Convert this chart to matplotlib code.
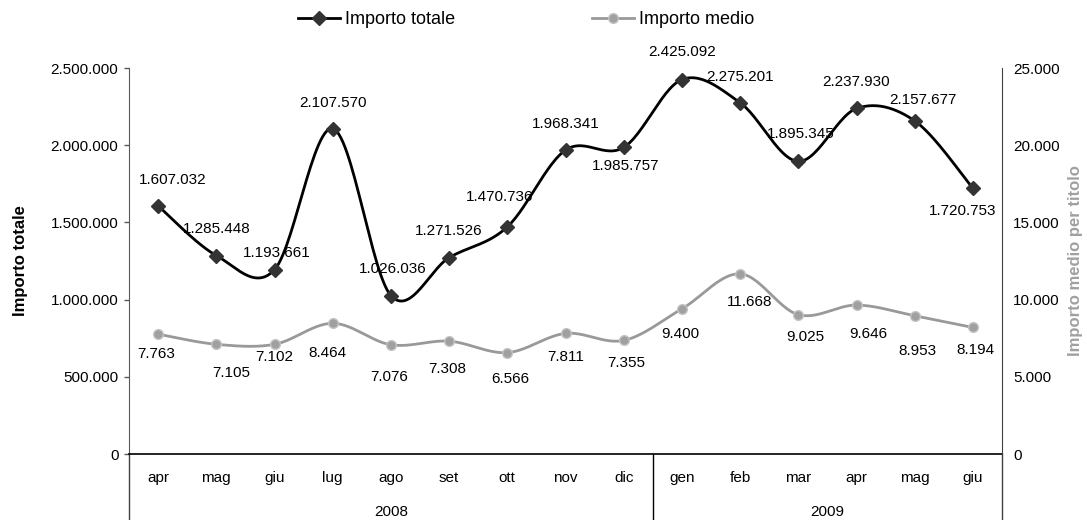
import numpy as np
import matplotlib
matplotlib.use("Agg")
from matplotlib import pyplot as plt
from matplotlib import transforms
from matplotlib.lines import Line2D
from matplotlib.ticker import FuncFormatter

plt.rcParams['font.family'] = ['Liberation Sans', 'DejaVu Sans']

# monthly data, apr 2008 - giu 2009
mesi   = ['apr', 'mag', 'giu', 'lug', 'ago', 'set', 'ott', 'nov', 'dic',
          'gen', 'feb', 'mar', 'apr', 'mag', 'giu']
anni   = ['2008', '2009']
n_anno = [9, 6]   # months per year group

importo_totale = [1607032, 1285448, 1193661, 2107570, 1026036, 1271526, 1470736,
                  1968341, 1985757, 2425092, 2275201, 1895345, 2237930, 2157677,
                  1720753]
importo_medio  = [7763, 7105, 7102, 8464, 7076, 7308, 6566, 7811, 7355,
                  9400, 11668, 9025, 9646, 8953, 8194]

# label offsets in pixels (dx, dy)
off_tot = [(15, 26), (0, 27), (2, 17), (0, 26), (2, 27), (0, 27), (-8, 30), (0, 26),
           (2, -19), (0, 28), (0, 26), (2, 27), (0, 26), (8, 21), (-10, -23)]
off_med = [(-2, -20), (15, -29), (0, -13), (-5, -30), (-2, -32), (-2, -28), (3, -26),
           (0, -24), (3, -23), (-2, -25), (10, -28), (7, -22), (12, -29), (3, -35),
           (3, -23)]


def smooth(x, y, n=30):
  """
  Smoothed line through the points (cubic bezier, catmull-rom tangents)
  """
  x = np.asarray(x, float)
  y = np.asarray(y, float)
  px = np.concatenate([[x[0]], x, [x[-1]]])
  py = np.concatenate([[y[0]], y, [y[-1]]])
  t = np.linspace(0, 1, n)[:, None]
  xs, ys = [], []
  for i in range(1, len(x)):
    p0 = np.array([px[i], py[i]])
    p3 = np.array([px[i + 1], py[i + 1]])
    c1 = p0 + (p3 - np.array([px[i - 1], py[i - 1]])) / 6.
    c2 = p3 - (np.array([px[i + 2], py[i + 2]]) - p0) / 6.
    b = (1 - t)**3 * p0 + 3 * (1 - t)**2 * t * c1 + 3 * (1 - t) * t**2 * c2 + t**3 * p3
    xs.append(b[:, 0])
    ys.append(b[:, 1])
  return np.concatenate(xs), np.concatenate(ys)


def fmt(v, pos=None):
  return '{:,}'.format(int(round(v))).replace(',', '.')


x = np.arange(len(mesi))

fig = plt.figure(figsize=(10.87, 5.20), dpi=100)
ax = fig.add_axes([129 / 1087, 1 - 454 / 520, (1002 - 129) / 1087, 386 / 520])
ax2 = ax.twinx()

# totale
sx, sy = smooth(x, importo_totale)
ax.plot(sx, sy, color='black', lw=2.0, zorder=3)
ax.plot(x, importo_totale, linestyle='none', marker='D', ms=7.5, mfc='#333333',
        mec='#333333', zorder=4)
for xi, v, (dx, dy) in zip(x, importo_totale, off_tot):
  ax.annotate(fmt(v), (xi, v), xytext=(dx, dy), textcoords='offset pixels',
              ha='center', va='center', fontsize=11, zorder=5)

# medio
sx, sy = smooth(x, importo_medio)
ax2.plot(sx, sy, color='#999999', lw=2.0, zorder=3)
ax2.plot(x, importo_medio, linestyle='none', marker='o', ms=7, mfc='#a0a0a0',
         mec='#c4c4c4', mew=1.0, zorder=4)
for xi, v, (dx, dy) in zip(x, importo_medio, off_med):
  ax2.annotate(fmt(v), (xi, v), xytext=(dx, dy), textcoords='offset pixels',
               ha='center', va='center', fontsize=11, zorder=5)

# axes
ax.set_xlim(-0.5, len(mesi) - 0.5)
ax.set_ylim(0, 2500000)
ax.set_yticks(np.arange(0, 2500001, 500000))
ax.yaxis.set_major_formatter(FuncFormatter(fmt))
ax2.set_ylim(0, 25000)
ax2.set_yticks(np.arange(0, 25001, 5000))
ax2.yaxis.set_major_formatter(FuncFormatter(fmt))

ax.set_xticks(x)
ax.set_xticklabels(mesi)
ax.tick_params(axis='x', length=0, pad=12, labelsize=11)
ax.tick_params(axis='y', length=3.6, width=1, color='#595959', pad=4, labelsize=11)
ax2.tick_params(axis='y', length=0, pad=8, labelsize=11)

for a in (ax, ax2):
  a.spines['top'].set_visible(False)
ax.spines['right'].set_visible(False)
ax2.spines['left'].set_visible(False)
ax2.spines['bottom'].set_visible(False)
ax.spines['left'].set_color('#595959')
ax2.spines['right'].set_color('#404040')
ax.spines['bottom'].set_color('black')
ax.spines['bottom'].set_linewidth(1.2)

ax.set_ylabel('Importo totale', fontsize=12, fontweight='bold', labelpad=16)
ax2.set_ylabel('Importo medio per titolo', fontsize=12, fontweight='bold',
               color='#a0a0a0', labelpad=6)

# year groups under the month labels
tr = transforms.blended_transform_factory(ax.transData, ax.transAxes)
bottom = -(520 - 454) / 386
edges = np.concatenate([[0], np.cumsum(n_anno)]) - 0.5
for e in edges:
  col = '#404040' if e in (edges[0], edges[-1]) else 'black'
  ax.add_line(Line2D([e, e], [0, bottom], transform=tr, color=col, lw=1.0,
                     clip_on=False))
for i, anno in enumerate(anni):
  ax.text((edges[i] + edges[i + 1]) / 2, -(512 - 454) / 386, anno, transform=tr,
          ha='center', va='center', fontsize=11)

# legend
h1 = Line2D([], [], color='black', lw=2.0, marker='D', ms=7, mfc='#333333', mec='#333333')
h2 = Line2D([], [], color='#999999', lw=2.0, marker='o', ms=7, mfc='#a0a0a0', mec='#c4c4c4')
fig.legend([h1, h2], ['Importo totale', 'Importo medio'], ncol=2, frameon=False,
           loc='center left', bbox_to_anchor=(298 / 1087, 1 - 20 / 520),
           fontsize=13, handlelength=2.3, handletextpad=0.3, columnspacing=7.6,
           borderpad=0, borderaxespad=0)

fig.savefig('out.png', dpi=100)
